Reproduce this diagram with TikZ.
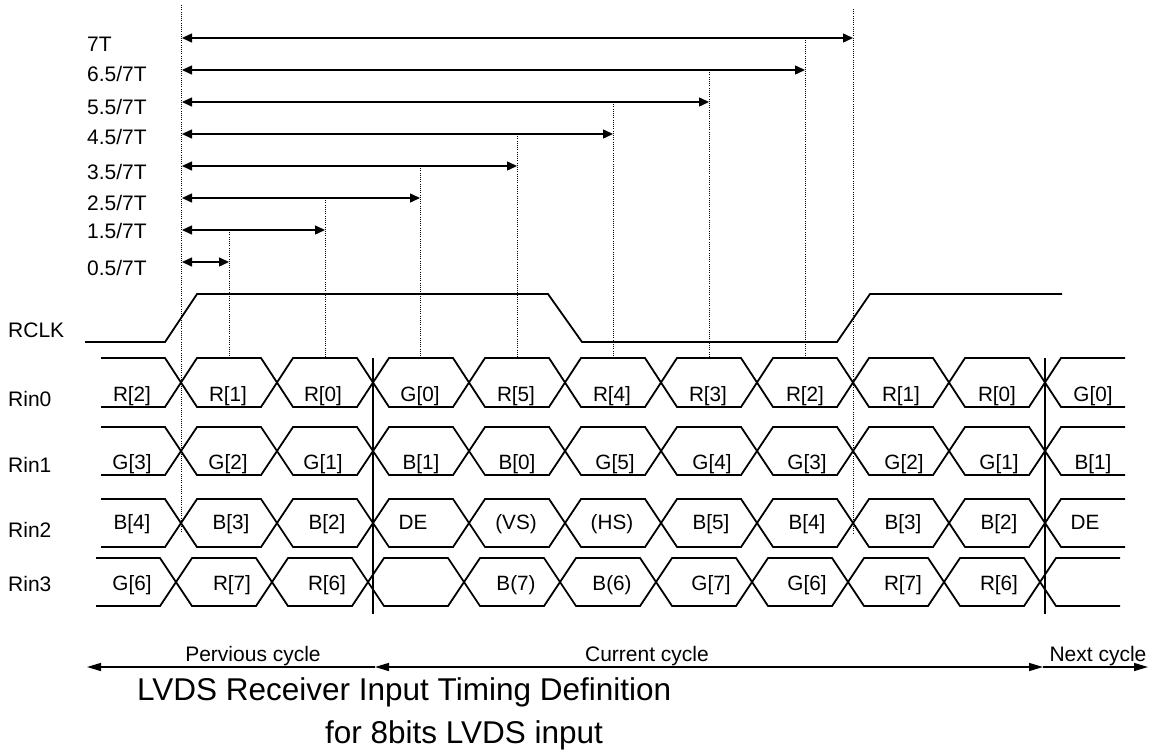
\documentclass[tikz,border=0pt]{standalone}
\usepackage{fontspec}
\setmainfont{Liberation Sans}
\usetikzlibrary{arrows.meta}
\newcommand\busrow[5]{%
  \draw[sig] (#4,#1) \foreach \k [evaluate=\k as \cx using {#3+96*\k},
     evaluate=\k as \ya using {mod(\k,2)==0 ? #1 : #2},
     evaluate=\k as \yb using {mod(\k,2)==0 ? #2 : #1}] in {0,...,9}
     { -- (\cx-16,\ya) -- (\cx+16,\yb) } -- (#5,#1);
  \draw[sig] (#4,#2) \foreach \k [evaluate=\k as \cx using {#3+96*\k},
     evaluate=\k as \ya using {mod(\k,2)==0 ? #2 : #1},
     evaluate=\k as \yb using {mod(\k,2)==0 ? #1 : #2}] in {0,...,9}
     { -- (\cx-16,\ya) -- (\cx+16,\yb) } -- (#5,#2);
}
\begin{document}
\begin{tikzpicture}[x=1pt,y=-1pt,
  sig/.style={line width=1.8pt},
  clk/.style={line width=1.8pt},
  dotln/.style={line width=1pt, dash pattern=on 1pt off 1.2pt},
  meas/.style={line width=1.4pt, {Triangle[length=10pt,width=9pt]}-{Triangle[length=10pt,width=9pt]}},
  sep/.style={line width=1.4pt},
  cyc/.style={line width=1.4pt},
  hd/.tip={Triangle[length=14pt,width=8pt]},
  lbl/.style={font=\fontsize{20.7}{24}\selectfont, inner sep=0pt, anchor=base},
  side/.style={font=\fontsize{21}{24}\selectfont, inner sep=0pt, anchor=base west},
  sml/.style={font=\fontsize{21}{25}\selectfont, inner sep=0pt, anchor=base},
  ttl/.style={font=\fontsize{31.5}{36}\selectfont, inner sep=0pt, anchor=base west}]
\useasboundingbox (0,0) rectangle (1159,755);

% reference dotted lines
\coordinate (d0a) at (181,5);  \coordinate (d0b) at (181,533);
\coordinate (d7a) at (853,9);  \coordinate (d7b) at (853,533);
\draw[dotln] (d0a) -- (d0b);
\draw[dotln] (d7a) -- (d7b);

% measurement arrows and labels
\foreach \y/\xe/\t/\b [count=\i] in {38/853/{7T}/51, 70/805/{6.5/7T}/81, 102/709/{5.5/7T}/114,
    134/613/{4.5/7T}/144, 166/517/{3.5/7T}/179, 198/420/{2.5/7T}/210,
    230/325/{1.5/7T}/238, 262/229/{0.5/7T}/275}{
  \coordinate (ms\i) at (182,\y);
  \coordinate (me\i) at (\xe,\y);
  \draw[meas] (ms\i) -- (me\i);
  \node[side] (ml\i) at (87,\b) {\t};
}
% sampling dotted lines
\foreach \x/\ys [count=\i] in {229/230, 325/198, 420/166, 517/134, 613/102, 709/70, 805/38}{
  \coordinate (sa\i) at (\x,\ys);
  \coordinate (sb\i) at (\x,358);
  \draw[dotln] (sa\i) -- (sb\i);
}

% RCLK
\draw[clk] (85,342) -- (165,342) -- (197,294) -- (548,294) -- (582,342)
  -- (837,342) -- (870,294) -- (1062,294);

% buses
\busrow{358}{407}{181}{101}{1125}
\busrow{427}{475}{181}{101}{1125}
\busrow{499}{547}{181}{101}{1125}
\busrow{558}{606}{176}{96}{1120}

% cycle separators
\coordinate (s1a) at (373,358); \coordinate (s1b) at (373,614);
\coordinate (s2a) at (1045,358); \coordinate (s2b) at (1045,614);
\draw[sep] (s1a) -- (s1b);
\draw[sep] (s2a) -- (s2b);

% signal names
\node[side] (nclk) at (8,337) {RCLK};
\node[side] (nr0) at (8,406) {Rin0};
\node[side] (nr1) at (8,472) {Rin1};
\node[side] (nr2) at (8,537) {Rin2};
\node[side] (nr3) at (8,591) {Rin3};

% data labels
\foreach \x/\t [count=\i] in {132/R[2], 228/R[1], 323/R[0], 420/G[0], 516/R[5], 612/R[4],
    708/R[3], 805/R[2], 901/R[1], 997/R[0], 1093/G[0]}
  \node[lbl] (a\i) at (\x,401) {\t};
\foreach \x/\t [count=\i] in {132/G[3], 228/G[2], 323/G[1], 421/B[1], 517/B[0], 615/G[5],
    712/G[4], 807/G[3], 904/G[2], 999/G[1], 1093/B[1]}
  \node[lbl] (b\i) at (\x,469) {\t};
\foreach \x/\t [count=\i] in {132/B[4], 231/B[3], 327/B[2], 413/DE, 516/(VS), 612/(HS),
    711/B[5], 807/B[4], 903/B[3], 999/B[2], 1085/DE}
  \node[lbl] (c\i) at (\x,529) {\t};
\foreach \x/\t [count=\i] in {132/G[6], 232/R[7], 327/R[6], 516/B(7), 612/B(6),
    711/G[7], 807/G[6], 903/R[7], 999/R[6]}
  \node[lbl] (e\i) at (\x,590) {\t};

% cycle arrows
\coordinate (pL) at (87,667); \coordinate (pC) at (375,667);
\coordinate (pR) at (1043,667); \coordinate (pN) at (1148,667);
\draw[cyc,-hd] (pC) -- (pL);
\draw[cyc,hd-hd] (pC) -- (pR);
\draw[cyc,-hd] (pR) -- (pN);
\node[sml] (prev) at (253,661) {Pervious cycle};
\node[sml] (curr) at (647,661) {Current cycle};
\node[sml] (next) at (1098,661) {Next cycle};

% title
\node[ttl] (t1) at (137,700) {LVDS Receiver Input Timing Definition};
\node[ttl] (t2) at (325,743) {for 8bits LVDS input};
\end{tikzpicture}
\end{document}
